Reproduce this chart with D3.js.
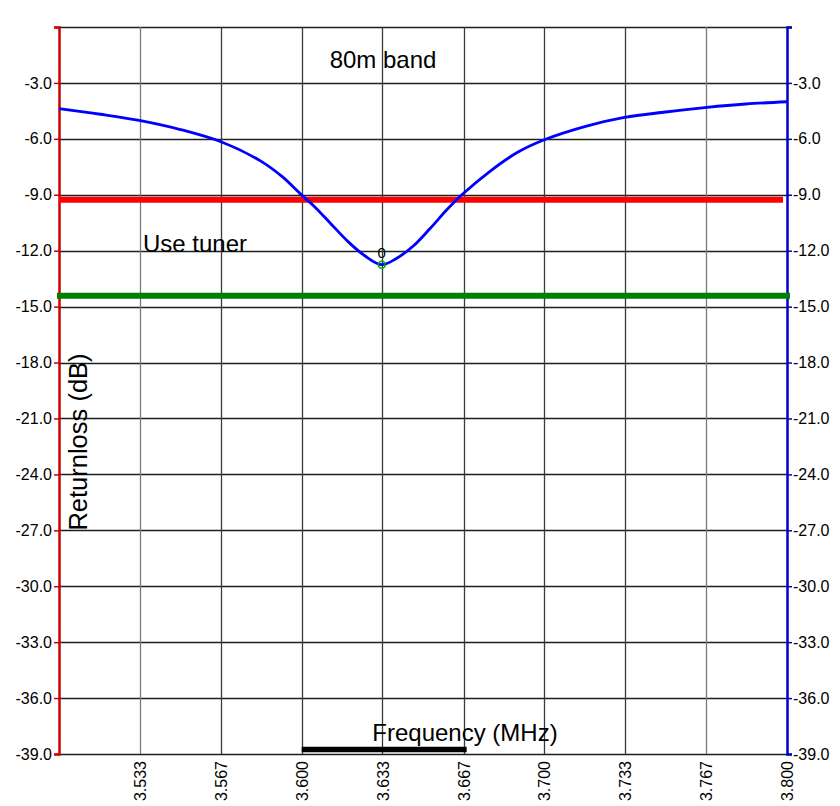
<!DOCTYPE html>
<html>
<head>
<meta charset="utf-8">
<script src="https://cdn.jsdelivr.net/npm/d3@7"></script>
<style>
  html, body { margin: 0; padding: 0; background: #fff; }
  svg { display: block; font-family: "Liberation Sans", Arial, sans-serif; }
</style>
</head>
<body>
<svg id="chart" width="840" height="806"></svg>
<script>
// ---- data ----
const freqMHz = [3.500, 3.517, 3.533, 3.550, 3.567, 3.583, 3.592, 3.600, 3.605, 3.612, 3.619, 3.626, 3.633,
                 3.639, 3.646, 3.653, 3.660, 3.666, 3.678, 3.689, 3.700, 3.717, 3.733, 3.750, 3.767, 3.783, 3.800];
const returnLossDb = [-4.38, -4.68, -5.01, -5.50, -6.17, -7.18, -8.03, -9.02, -9.60, -10.55, -11.50, -12.27, -12.75,
                      -12.42, -11.75, -10.80, -9.78, -9.00, -7.70, -6.72, -6.05, -5.33, -4.85, -4.56, -4.31, -4.13, -4.01];
const xTickValues = [3.5333, 3.5667, 3.6000, 3.6333, 3.6667, 3.7000, 3.7333, 3.7667, 3.8000];
const xTickLabels = ["3.533", "3.567", "3.600", "3.633", "3.667", "3.700", "3.733", "3.767", "3.800"];
const yTickValues = [0, -3, -6, -9, -12, -15, -18, -21, -24, -27, -30, -33, -36, -39];
const redLimitDb = -9.27;
const greenLimitDb = -14.42;
const markerFreq = 3.633;
const markerDb = -12.75;
const markerLabel = "0";
const bandStart = 3.600, bandEnd = 3.668;
const titleText = "80m band";
const noteText = "Use tuner";
const xTitle = "Frequency (MHz)";
const yTitle = "Returnloss (dB)";

// ---- layout ----
const svg = d3.select("#chart");
const L = 59, R = 787, T = 27, B = 754;
const x = d3.scaleLinear().domain([3.5, 3.8]).range([L, R]);
const y = d3.scaleLinear().domain([0, -39]).range([T, B]);
const fmt = d => d === 0 ? "" : d.toFixed(1);

// grid
const grid = svg.append("g");
grid.selectAll("line.h").data(yTickValues).join("line")
  .attr("x1", L).attr("x2", R)
  .attr("y1", d => Math.round(y(d)) + 0.5).attr("y2", d => Math.round(y(d)) + 0.5)
  .attr("stroke", "#1e1e1e").attr("stroke-width", 1.3);
grid.selectAll("line.v").data(xTickValues.slice(0, -1)).join("line")
  .attr("x1", d => Math.round(x(d)) + 0.5).attr("x2", d => Math.round(x(d)) + 0.5)
  .attr("y1", T).attr("y2", B)
  .attr("stroke", (d, i) => (i === 0 || i === 7) ? "#7a7a7a" : "#3a3a3a").attr("stroke-width", 1.3);

// left axis (red)
const leftAxis = d3.axisLeft(y).tickValues(yTickValues).tickSize(5).tickPadding(2).tickFormat(fmt);
const gl = svg.append("g").attr("transform", `translate(${L},0)`).call(leftAxis);
gl.select(".domain").attr("stroke", "#cc0000").attr("stroke-width", 2.5);
gl.selectAll(".tick line").attr("stroke", "#cc0000").attr("stroke-width", 1.5);
gl.selectAll(".tick text").attr("fill", "#000").attr("font-size", 16)
  .attr("font-family", "'Liberation Sans', Arial, sans-serif");

// right axis (blue)
const rightAxis = d3.axisRight(y).tickValues(yTickValues).tickSize(5).tickPadding(1).tickFormat(fmt);
const gr = svg.append("g").attr("transform", `translate(${R},0)`).call(rightAxis);
gr.select(".domain").attr("stroke", "#0000cc").attr("stroke-width", 2.5);
gr.selectAll(".tick line").attr("stroke", "#0000cc").attr("stroke-width", 1.5);
gr.selectAll(".tick text").attr("fill", "#000").attr("font-size", 16)
  .attr("font-family", "'Liberation Sans', Arial, sans-serif");

// bottom axis (rotated labels)
const bottomAxis = d3.axisBottom(x).tickValues(xTickValues).tickSize(0)
  .tickFormat((d, i) => xTickLabels[i]);
const gb = svg.append("g").attr("transform", `translate(0,${B})`).call(bottomAxis);
gb.select(".domain").remove();
gb.selectAll(".tick text")
  .attr("fill", "#000").attr("font-size", 16)
  .attr("font-family", "'Liberation Sans', Arial, sans-serif")
  .attr("transform", "rotate(-90)")
  .attr("text-anchor", "end")
  .attr("x", -7).attr("y", 0).attr("dy", "0.35em");

// limit lines
svg.append("line").attr("x1", L).attr("x2", 783)
  .attr("y1", y(redLimitDb)).attr("y2", y(redLimitDb))
  .attr("stroke", "#ff0000").attr("stroke-width", 6);
svg.append("line").attr("x1", 57).attr("x2", 790)
  .attr("y1", y(greenLimitDb)).attr("y2", y(greenLimitDb))
  .attr("stroke", "#008000").attr("stroke-width", 6);

// curve
const pts = freqMHz.map((f, i) => [f, returnLossDb[i]]);
const line = d3.line().x(d => x(d[0])).y(d => y(d[1])).curve(d3.curveCatmullRom.alpha(0.5));
svg.append("path").datum(pts).attr("d", line)
  .attr("fill", "none").attr("stroke", "#0000ff").attr("stroke-width", 2.8);

// marker
svg.append("circle").attr("cx", x(markerFreq)).attr("cy", y(markerDb)).attr("r", 3.5)
  .attr("fill", "none").attr("stroke", "#00b000").attr("stroke-width", 1.5);
svg.append("text").attr("x", x(markerFreq)).attr("y", y(markerDb) - 7)
  .attr("text-anchor", "middle").attr("font-size", 15).attr("fill", "#000")
  .text(markerLabel);

// band bar
svg.append("line").attr("x1", x(bandStart)).attr("x2", x(bandEnd))
  .attr("y1", 749.5).attr("y2", 749.5)
  .attr("stroke", "#000").attr("stroke-width", 5.5);

// texts
svg.append("text").attr("x", 383).attr("y", 68).attr("text-anchor", "middle")
  .attr("font-size", 24).attr("fill", "#000").text(titleText);
svg.append("text").attr("x", 143).attr("y", 252)
  .attr("font-size", 24).attr("fill", "#000").text(noteText);
svg.append("text").attr("x", 465).attr("y", 741).attr("text-anchor", "middle")
  .attr("font-size", 24).attr("fill", "#000").text(xTitle);
svg.append("text").attr("transform", "translate(87,442) rotate(-90)")
  .attr("text-anchor", "middle").attr("font-size", 25.5).attr("fill", "#000").text(yTitle);
</script>
</body>
</html>
